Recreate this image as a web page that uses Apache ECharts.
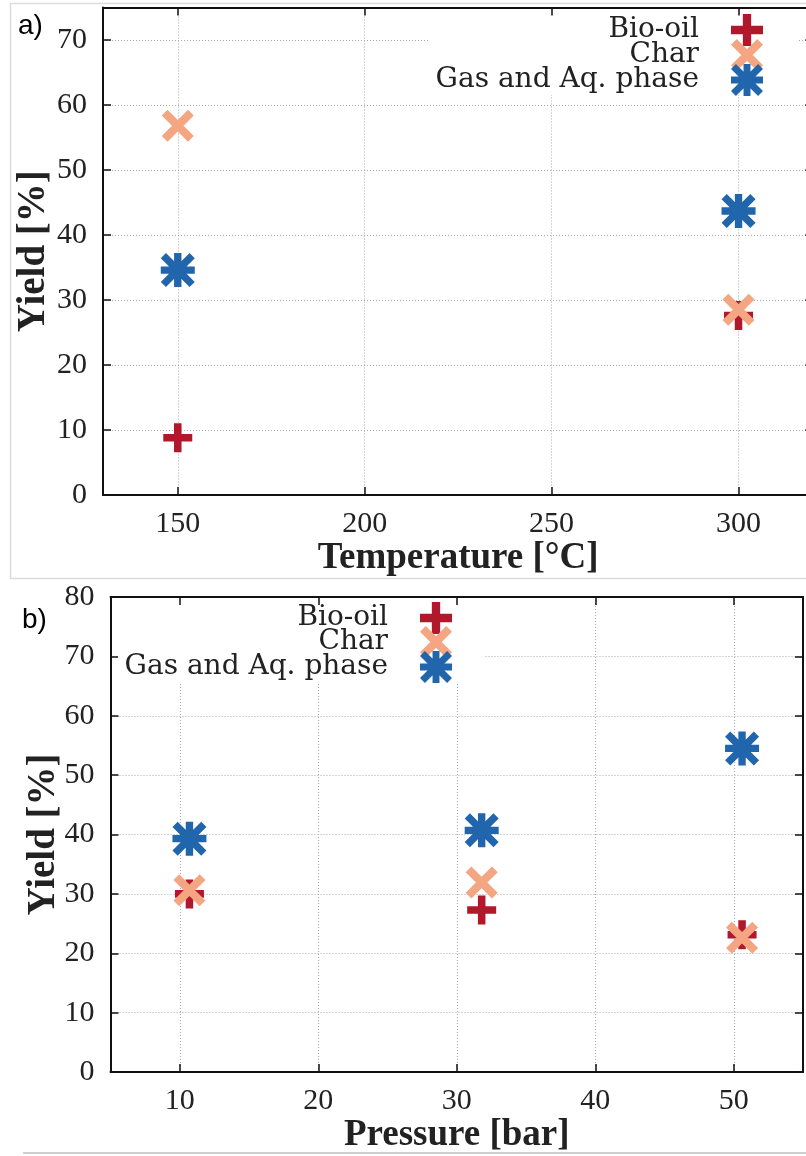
<!DOCTYPE html>
<html>
<head>
<meta charset="utf-8">
<script src="https://cdn.jsdelivr.net/npm/echarts@6/dist/echarts.min.js"></script>
<style>
  html, body { margin: 0; padding: 0; background: #fff; overflow: hidden; }
  #chart { width: 820px; height: 1156px; }
</style>
</head>
<body>
<div id="chart"></div>
<script>
// ---- data, panel a (temperature) ----
const tempX = [150, 300]
const bioOilA = [8.8, 27.6]
const charA = [56.8, 28.5]
const gasA = [34.6, 43.7]

// ---- data, panel b (pressure) ----
const pressX = [10.7, 31.8, 50.6]
const bioOilB = [30.0, 27.3, 23.1]
const charB = [30.6, 31.9, 22.6]
const gasB = [39.3, 40.7, 54.5]

const seriesNames = ['Bio-oil', 'Char', 'Gas and Aq. phase']
const colors = ['#b2182b', '#f4a582', '#2166ac']

// symbols (plus, cross, asterisk)
const plusPath = 'path://M-1.3,-5L1.3,-5L1.3,-1.3L5,-1.3L5,1.3L1.3,1.3L1.3,5L-1.3,5L-1.3,1.3L-5,1.3L-5,-1.3L-1.3,-1.3Z'
const crossPath = 'path://M-3.28,-5.12L5.12,3.28L3.28,5.12L-5.12,-3.28Z' +
  'M5.12,-3.28L-3.28,5.12L-5.12,3.28L3.28,-5.12Z'
const starPath = 'path://M-1.1,-5.08L1.1,-5.08L1.1,-1.1L5.08,-1.1L5.08,1.1L1.1,1.1L1.1,5.08L-1.1,5.08L-1.1,1.1L-5.08,1.1L-5.08,-1.1L-1.1,-1.1Z' +
  'M-3.52,-5.08L5.08,3.52L3.52,5.08L-5.08,-3.52Z' +
  'M5.08,-3.52L-3.52,5.08L-5.08,3.52L3.52,-5.08Z'
const symbols = [plusPath, crossPath, starPath]
const symbolSizes = [29, 32, 34]

const chart = echarts.init(document.getElementById('chart'))

const serif = 'Liberation Serif'
const gridLine = { show: true, lineStyle: { color: '#a8a8a8', width: 1, type: [1, 2] } }
const frameLine = { show: true, onZero: false, lineStyle: { color: '#111', width: 2 } }
const tick = { show: true, inside: true, length: 8, lineStyle: { color: '#111', width: 1.5 } }

function mainX(grid, min, max, split, name) {
  return {
    type: 'value', gridIndex: grid, min: min, max: max, splitNumber: split,
    position: 'bottom', z: 0,
    axisLine: frameLine, axisTick: tick, splitLine: gridLine,
    axisLabel: { color: '#222', fontFamily: serif, fontSize: 30, margin: 14,
      showMinLabel: false, showMaxLabel: false },
    name: name, nameLocation: 'middle', nameGap: 40,
    nameTextStyle: { color: '#222', fontFamily: serif, fontWeight: 'bold', fontSize: 37 }
  }
}
function mainY(grid, max, gap, showMax) {
  return {
    type: 'value', gridIndex: grid, min: 0, max: max, interval: 10,
    position: 'left', z: 0,
    axisLine: frameLine, axisTick: tick, splitLine: gridLine,
    axisLabel: { color: '#222', fontFamily: serif, fontSize: 30, margin: 16, showMaxLabel: showMax },
    name: 'Yield [%]', nameLocation: 'middle', nameGap: gap, nameMoveOverlap: false,
    nameTextStyle: { color: '#222', fontFamily: serif, fontWeight: 'bold', fontSize: 39 }
  }
}
function frameX(grid, min, max, split) {
  return {
    type: 'value', gridIndex: grid, min: min, max: max, splitNumber: split,
    position: 'top', z: 5,
    axisLine: frameLine, axisTick: tick, splitLine: { show: false },
    axisLabel: { show: false }
  }
}
function frameY(grid, max) {
  return {
    type: 'value', gridIndex: grid, min: 0, max: max, interval: 10,
    position: 'right', z: 5,
    axisLine: frameLine, axisTick: tick, splitLine: { show: false },
    axisLabel: { show: false }
  }
}

function scatter(i, xs, ys, xi, yi) {
  return {
    type: 'scatter', name: seriesNames[i],
    xAxisIndex: xi, yAxisIndex: yi,
    data: xs.map((x, k) => [x, ys[k]]),
    symbol: symbols[i], symbolSize: symbolSizes[i],
    itemStyle: { color: colors[i], opacity: 1 },
    z: 2 + i
  }
}

// one legend per row so the texts right-align and icons line up
function legendRow(i, right, centerY) {
  return {
    data: [seriesNames[i]], orient: 'vertical', align: 'right',
    right: right, top: centerY - 16, padding: 0,
    itemWidth: 86, itemHeight: 32, selectedMode: false,
    textStyle: { color: '#222', fontFamily: 'DejaVu Serif', fontSize: 28, lineHeight: 32 }
  }
}

chart.setOption({
  animation: false,
  backgroundColor: '#fff',
  grid: [
    { left: 103, top: 7.5, width: 710.3, height: 487.5 },
    { left: 110.5, top: 597, width: 692.5, height: 475 }
  ],
  xAxis: [
    mainX(0, 130, 320, 4, 'Temperature [°C]'),
    frameX(0, 130, 320, 4),
    mainX(1, 5, 55, 5, 'Pressure [bar]'),
    frameX(1, 5, 55, 5)
  ],
  yAxis: [
    mainY(0, 75, 50, false),
    frameY(0, 75),
    mainY(1, 80, 47, true),
    frameY(1, 80)
  ],
  legend: [
    legendRow(0, 57, 30),
    legendRow(1, 57, 55),
    legendRow(2, 57, 80),
    legendRow(0, 368, 618),
    legendRow(1, 368, 642),
    legendRow(2, 368, 667)
  ],
  graphic: [
    // screenshot panel borders
    { type: 'rect', shape: { x: 10.5, y: 3.5, width: 820, height: 575 }, z: -1,
      style: { fill: null, stroke: '#dcdcdc', lineWidth: 1.5 } },
    { type: 'line', shape: { x1: 23, y1: 1153, x2: 820, y2: 1153 }, z: -1,
      style: { stroke: '#cfcfcf', lineWidth: 2 } },
    // opaque key boxes
    { type: 'rect', shape: { x: 428, y: 9, width: 369, height: 86 }, z: 1,
      style: { fill: '#fff' } },
    { type: 'rect', shape: { x: 118, y: 599, width: 366, height: 84 }, z: 1,
      style: { fill: '#fff' } },
    // panel tags
    { type: 'text', left: 18, top: 12, z: 6,
      style: { text: 'a)', fill: '#000', font: '28px "Liberation Sans"' } },
    { type: 'text', left: 22, top: 606, z: 6,
      style: { text: 'b)', fill: '#000', font: '28px "Liberation Sans"' } }
  ],
  series: [
    scatter(0, tempX, bioOilA, 0, 0),
    scatter(1, tempX, charA, 0, 0),
    scatter(2, tempX, gasA, 0, 0),
    scatter(0, pressX, bioOilB, 2, 2),
    scatter(1, pressX, charB, 2, 2),
    scatter(2, pressX, gasB, 2, 2)
  ]
})
</script>
</body>
</html>
